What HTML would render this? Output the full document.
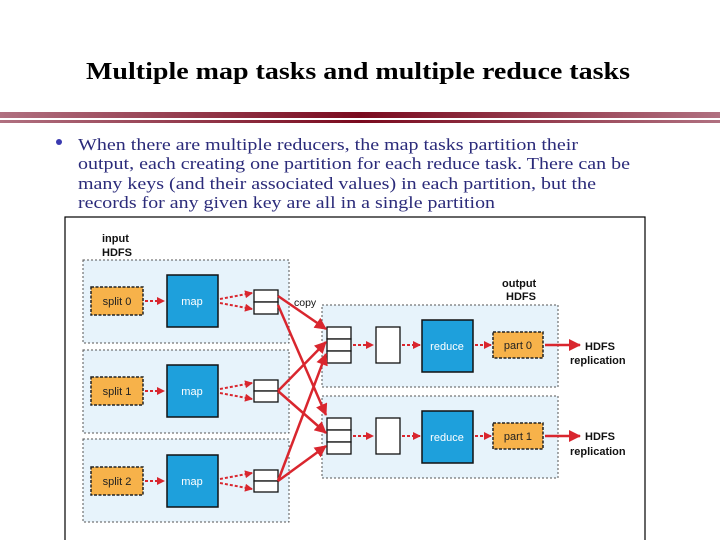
<!DOCTYPE html>
<html><head><meta charset="utf-8"><style>
html,body{margin:0;padding:0;background:#fff;}
body{width:720px;height:540px;overflow:hidden;position:relative;}
</style></head><body>
<svg width="720" height="540" viewBox="0 0 720 540" xmlns="http://www.w3.org/2000/svg" style="position:absolute;left:0;top:0">
<defs>
<linearGradient id="g" x1="0" x2="1" y1="0" y2="0">
<stop offset="0" stop-color="#b07080"/><stop offset="0.5" stop-color="#7a0a1e"/><stop offset="1" stop-color="#b07080"/>
</linearGradient>
<marker id="a" markerWidth="8" markerHeight="8" refX="7" refY="4" orient="auto" markerUnits="userSpaceOnUse"><path d="M0,0 L8,4 L0,8 z" fill="#d9262e"/></marker>
<marker id="b" markerWidth="12" markerHeight="12" refX="11" refY="6" orient="auto" markerUnits="userSpaceOnUse"><path d="M0,0 L12,6 L0,12 z" fill="#d9262e"/></marker>
</defs>
<text x="86" y="79" textLength="544" lengthAdjust="spacingAndGlyphs" font-family="Liberation Serif" font-weight="bold" font-size="24">Multiple map tasks and multiple reduce tasks</text>
<rect x="0" y="112" width="720" height="6" fill="url(#g)"/>
<rect x="0" y="120" width="720" height="3" fill="url(#g)"/>
<circle cx="59" cy="142" r="3" fill="#3a3ab0"/>
<g font-family="Liberation Serif" font-size="17" fill="#2b2b7a">
<text x="78" y="150" textLength="500" lengthAdjust="spacingAndGlyphs">When there are multiple reducers, the map tasks partition their</text>
<text x="78" y="169" textLength="552" lengthAdjust="spacingAndGlyphs">output, each creating one partition for each reduce task. There can be</text>
<text x="78" y="189" textLength="518" lengthAdjust="spacingAndGlyphs">many keys (and their associated values) in each partition, but the</text>
<text x="78" y="208" textLength="417" lengthAdjust="spacingAndGlyphs">records for any given key are all in a single partition</text>
</g>
<rect x="65" y="217" width="580" height="330" fill="#fff" stroke="#000" stroke-width="1.2"/>
<g font-family="Liberation Sans" font-size="11" font-weight="bold" fill="#111">
<text x="102" y="242">input</text><text x="102" y="256">HDFS</text>
<text x="502" y="287">output</text><text x="506" y="300">HDFS</text>
<text x="585" y="350">HDFS</text><text x="570" y="364">replication</text>
<text x="585" y="440">HDFS</text><text x="570" y="455">replication</text>
</g>
<g font-family="Liberation Sans" font-size="10.5" fill="#111">
<text x="228" y="284">sort</text><text x="294" y="306">copy</text>
<text x="350" y="323">merge</text><text x="350" y="413">merge</text>
</g>
<g fill="#e7f3fb" stroke="#555" stroke-dasharray="2,2" stroke-width="1">
<rect x="83" y="260" width="206" height="83"/>
<rect x="83" y="350" width="206" height="83"/>
<rect x="83" y="439" width="206" height="83"/>
<rect x="322" y="305" width="236" height="82"/>
<rect x="322" y="396" width="236" height="82"/>
</g>
<g font-family="Liberation Sans" font-size="11" fill="#222">
<g fill="#f7b24a" stroke="#222" stroke-dasharray="3,1.5" stroke-width="1.5">
<rect x="91" y="287" width="52" height="28"/><rect x="91" y="377" width="52" height="28"/><rect x="91" y="467" width="52" height="28"/>
<rect x="493" y="332" width="50" height="26"/><rect x="493" y="423" width="50" height="26"/>
</g>
<text x="117" y="305" text-anchor="middle">split 0</text><text x="117" y="395" text-anchor="middle">split 1</text><text x="117" y="485" text-anchor="middle">split 2</text>
<text x="518" y="349" text-anchor="middle">part 0</text><text x="518" y="440" text-anchor="middle">part 1</text>
</g>
<g fill="#1ea0dc" stroke="#111" stroke-width="1.5">
<rect x="167" y="275" width="51" height="52"/><rect x="167" y="365" width="51" height="52"/><rect x="167" y="455" width="51" height="52"/>
<rect x="422" y="320" width="51" height="52"/><rect x="422" y="411" width="51" height="52"/>
</g>
<g font-family="Liberation Sans" font-size="11" fill="#fff" text-anchor="middle">
<text x="192" y="305">map</text><text x="192" y="395">map</text><text x="192" y="485">map</text>
<text x="447" y="350">reduce</text><text x="447" y="441">reduce</text>
</g>
<g fill="#fff" stroke="#111" stroke-width="1.3">
<rect x="254" y="290" width="24" height="12"/><rect x="254" y="302" width="24" height="12"/>
<rect x="254" y="380" width="24" height="11"/><rect x="254" y="391" width="24" height="11"/>
<rect x="254" y="470" width="24" height="11"/><rect x="254" y="481" width="24" height="11"/>
<rect x="327" y="327" width="24" height="12"/><rect x="327" y="339" width="24" height="12"/><rect x="327" y="351" width="24" height="12"/>
<rect x="327" y="418" width="24" height="12"/><rect x="327" y="430" width="24" height="12"/><rect x="327" y="442" width="24" height="12"/>
<rect x="376" y="327" width="24" height="36"/><rect x="376" y="418" width="24" height="36"/>
</g>
<g stroke="#d9262e" stroke-width="2" stroke-dasharray="3,2" fill="none" marker-end="url(#a)">
<path d="M145,301 H164"/><path d="M145,391 H164"/><path d="M145,481 H164"/>
<path d="M220,299 L252,293"/><path d="M220,303 L252,309"/>
<path d="M220,389 L252,383"/><path d="M220,393 L252,399"/>
<path d="M220,479 L252,473"/><path d="M220,483 L252,489"/>
<path d="M353,345 H373"/><path d="M353,436 H373"/>
<path d="M402,345 H420"/><path d="M402,436 H420"/>
<path d="M475,345 H491"/><path d="M475,436 H491"/>
</g>
<g stroke="#d9262e" stroke-width="2.5" fill="none" marker-end="url(#b)">
<path d="M278,296 L326,329"/><path d="M278,305 L326,415"/>
<path d="M278,391 L326,342"/><path d="M278,391 L326,433"/>
<path d="M278,481 L326,354"/><path d="M278,481 L326,446"/>
<path d="M545,345 H580"/><path d="M545,436 H580"/>
</g>
</svg>
</body></html>
